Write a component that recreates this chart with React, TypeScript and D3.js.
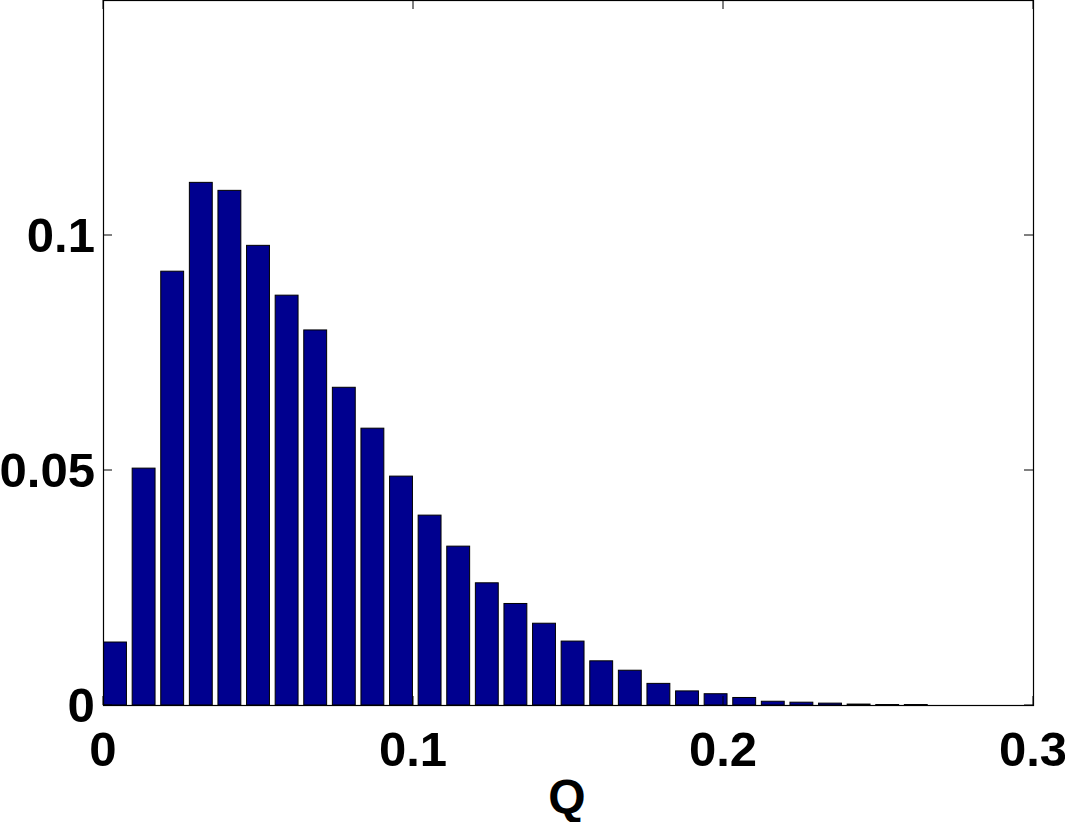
import React from "react";
import * as d3 from "d3";

// Histogram bin centres (Q) and relative frequencies
const binCenters = [
  0.00387, 0.0131, 0.02232, 0.03155, 0.04077, 0.05, 0.05923, 0.06845, 0.07768, 0.0869,
  0.09613, 0.10535, 0.11458, 0.12381, 0.13303, 0.14226, 0.15148, 0.16071, 0.16994, 0.17916,
  0.18839, 0.19761, 0.20684, 0.21606, 0.22529, 0.23452, 0.24374, 0.25297, 0.26219,
];
const frequencies = [
  0.0134, 0.0504, 0.0923, 0.1112, 0.1095, 0.0978, 0.0872, 0.0798, 0.0676, 0.0589,
  0.0487, 0.0404, 0.0338, 0.026, 0.0216, 0.0174, 0.0136, 0.0094, 0.0074, 0.0046,
  0.003, 0.0024, 0.0016, 0.0008, 0.0006, 0.0004, 0.0002, 0.0001, 0.0001,
];
const binStep = 0.009226;
const xTicks = [0, 0.1, 0.2, 0.3];
const xTickLabels = ["0", "0.1", "0.2", "0.3"];
const yTicks = [0, 0.05, 0.1];
const yTickLabels = ["0", "0.05", "0.1"];
const xLabel = "Q";

const W = 1065;
const H = 822;
const M = { left: 103, right: 1033, top: 0, bottom: 705 };
const FONT = "'Liberation Sans', Arial, Helvetica, sans-serif";
const FS = 48;

// approximate rendered advance width of a label, stretched like the reference
function labelLen(s: string) {
  let w = 0;
  for (const ch of s) w += ch === "." ? 0.28 : 0.57;
  return w * FS;
}

export default function App() {
  const x = d3.scaleLinear().domain([0, 0.3]).range([M.left, M.right]);
  const y = d3.scaleLinear().domain([0, 0.15]).range([M.bottom, M.top]);
  const barW = x(binStep * 0.8) - x(0);
  const tickLen = 9;

  return (
    <svg
      width={W}
      height={H}
      style={{ position: "absolute", left: 0, top: 0, background: "#fff" }}
    >
      <rect x={0} y={0} width={W} height={H} fill="#fff" />
      {binCenters.map((c, i) => (
        <rect
          key={i}
          x={x(c) - barW / 2}
          y={y(frequencies[i])}
          width={barW}
          height={y(0) - y(frequencies[i])}
          fill="#00008F"
          stroke="#000"
          strokeWidth={1}
        />
      ))}
      {/* box */}
      <rect
        x={M.left + 0.5}
        y={M.top + 0.5}
        width={M.right - M.left}
        height={M.bottom - M.top}
        fill="none"
        stroke="#000"
        strokeWidth={1.2}
      />
      {/* x ticks */}
      {xTicks.map((t, i) => (
        <g key={"xt" + i}>
          <line x1={x(t)} x2={x(t)} y1={M.bottom} y2={M.bottom - tickLen} stroke="#000" />
          <line x1={x(t)} x2={x(t)} y1={M.top} y2={M.top + tickLen} stroke="#000" />
          <text
            x={x(t)}
            y={766}
            textAnchor="middle"
            fontFamily={FONT}
            fontWeight="bold"
            fontSize={FS}
            textLength={labelLen(xTickLabels[i])}
            lengthAdjust="spacingAndGlyphs"
          >
            {xTickLabels[i]}
          </text>
        </g>
      ))}
      {/* y ticks */}
      {yTicks.map((t, i) => (
        <g key={"yt" + i}>
          <line x1={M.left} x2={M.left + tickLen} y1={y(t)} y2={y(t)} stroke="#000" />
          <line x1={M.right} x2={M.right - tickLen} y1={y(t)} y2={y(t)} stroke="#000" />
          <text
            x={95}
            y={y(t) + 17}
            textAnchor="end"
            fontFamily={FONT}
            fontWeight="bold"
            fontSize={FS}
            textLength={labelLen(yTickLabels[i])}
            lengthAdjust="spacingAndGlyphs"
          >
            {yTickLabels[i]}
          </text>
        </g>
      ))}
      <text
        x={567}
        y={813}
        textAnchor="middle"
        fontFamily={FONT}
        fontWeight="bold"
        fontSize={FS}
      >
        {xLabel}
      </text>
    </svg>
  );
}
